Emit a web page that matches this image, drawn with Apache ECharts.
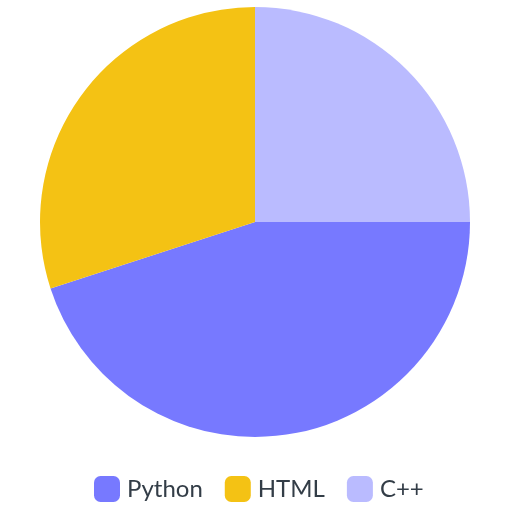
<!DOCTYPE html>
<html><head><meta charset="utf-8">
<script src="https://cdn.jsdelivr.net/npm/echarts@6/dist/echarts.min.js"></script>
<style>html,body{margin:0;padding:0;background:#fff}#c{width:511px;height:511px}</style>
</head><body><div id="c"></div>
<script>
const categories = ['Python', 'HTML', 'C++'];
const values = [45, 30, 25];
const colors = ['#7779ff', '#f4c214', '#babbff'];

const chart = echarts.init(document.getElementById('c'), null, {renderer: 'canvas'});
chart.setOption({
  animation: false,
  color: colors,
  legend: {
    top: 476,
    left: 94,
    itemWidth: 26,
    itemHeight: 26,
    itemGap: 22,
    padding: 0,
    icon: 'roundRect',
    textStyle: {fontFamily: 'Lato', fontSize: 24, color: '#333d47', padding: [0, 0, 0, 2]},
    data: categories
  },
  series: [{
    type: 'pie',
    center: [255, 222],
    radius: 215,
    startAngle: 0,
    clockwise: true,
    label: {show: false},
    labelLine: {show: false},
    data: categories.map((n, i) => ({name: n, value: values[i]}))
  }]
});
</script></body></html>
